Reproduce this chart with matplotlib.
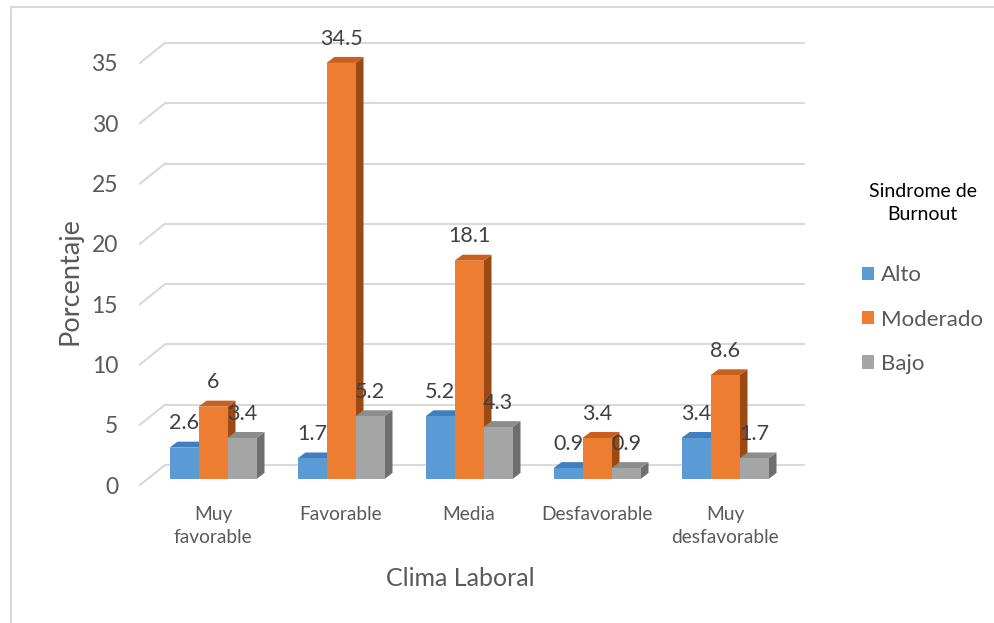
import matplotlib
matplotlib.use("Agg")
import matplotlib.pyplot as plt
from matplotlib.patches import Polygon, Patch
from matplotlib.lines import Line2D
import numpy as np

# ---------------- data ----------------
categories = ["Muy\nfavorable", "Favorable", "Media", "Desfavorable", "Muy\ndesfavorable"]
series_names = ["Alto", "Moderado", "Bajo"]
alto = [2.6, 1.7, 5.2, 0.9, 3.4]
moderado = [6, 34.5, 18.1, 3.4, 8.6]
bajo = [3.4, 5.2, 4.3, 0.9, 1.7]
y_ticks = [0, 5, 10, 15, 20, 25, 30, 35]
legend_title = "Sindrome de\nBurnout"
x_title = "Clima Laboral"
y_title = "Porcentaje"

# ---------------- style ----------------
FONT = ["Lato", "DejaVu Sans"]
plt.rcParams["font.family"] = FONT
front_cols = ["#5B9BD5", "#ED7D31", "#A5A5A5"]
top_cols = ["#3F7FC0", "#C9601D", "#8C8C8C"]
side_cols = ["#2F5F8F", "#9C4A14", "#6E6E6E"]
grid_col = "#D9D9D9"
txt_col = "#595959"
lbl_col = "#404040"

W, H = 994, 623
fig = plt.figure(figsize=(W / 100, H / 100), dpi=100)

# axes region in pixels
px_left, px_right, px_top, px_bot = 100, 830, 30, 500
ax = fig.add_axes([px_left / W, 1 - px_bot / H, (px_right - px_left) / W, (px_bot - px_top) / H])
PX_PER_X = 128.0
PX_PER_Y = 12.06
X0 = 213.0   # pixel of first group center
Y0 = 479.0   # pixel of bar base
ax.set_xlim((px_left - X0) / PX_PER_X, (px_right - X0) / PX_PER_X)
ax.set_ylim((Y0 - px_bot) / PX_PER_Y, (Y0 - px_top) / PX_PER_Y)
for s in ax.spines.values():
    s.set_visible(False)

# pseudo-3D geometry (data units)
bw = 29 / PX_PER_X          # bar width
ddx = 8 / PX_PER_X          # bar depth x
ddy = 6 / PX_PER_Y          # bar depth y
front_dy = -6 / PX_PER_Y    # front plane of value axis
back_dy = 14 / PX_PER_Y     # back wall
front_x = (140 - X0) / PX_PER_X
back_x = (165 - X0) / PX_PER_X
back_end = (805 - X0) / PX_PER_X

# gridlines on back wall + diagonal stubs
for v in y_ticks:
    ax.plot([back_x, back_end], [v + back_dy, v + back_dy], color=grid_col, lw=1.5, zorder=1,
            solid_capstyle="butt")
    ax.plot([front_x, back_x], [v + front_dy, v + back_dy], color=grid_col, lw=1.5, zorder=1)

# y tick labels (right edge at ~118 px)
ax.set_yticks([v + front_dy for v in y_ticks], labels=[str(v) for v in y_ticks])
ax.tick_params(axis="y", length=0, pad=(px_left - 118) * 0.72,
               labelsize=16.5, labelcolor=txt_col)

x = np.arange(len(categories))
ax.set_xticks(x, labels=categories)
ax.tick_params(axis="x", length=0, pad=4, labelsize=13.8, labelcolor=txt_col)
for t in ax.get_xticklabels():
    t.set_linespacing(1.45)

series = [alto, moderado, bajo]
offsets = [-bw, 0, bw]
handles = []
for si, (vals, off) in enumerate(zip(series, offsets)):
    xs = x + off
    bars = ax.bar(xs, vals, width=bw, color=front_cols[si], zorder=3 + si * 0.1, linewidth=0)
    handles.append(Patch(facecolor=front_cols[si], label=series_names[si]))
    for b, v in zip(bars, vals):
        xl = b.get_x()
        xr = xl + b.get_width()
        top = Polygon([(xl, v), (xr, v), (xr + ddx, v + ddy), (xl + ddx, v + ddy)],
                      closed=True, facecolor=top_cols[si], edgecolor="none", zorder=3 + si * 0.1)
        side = Polygon([(xr, 0), (xr + ddx, ddy), (xr + ddx, v + ddy), (xr, v)],
                       closed=True, facecolor=side_cols[si], edgecolor="none", zorder=3 + si * 0.1)
        ax.add_patch(side)
        ax.add_patch(top)
        b.set_zorder(3 + si * 0.1 + 0.01)
        ax.annotate(f"{v:g}", xy=(b.get_x() + b.get_width() / 2, v), xytext=(0, 17.5),
                    textcoords="offset points", ha="center", va="center",
                    fontsize=15.5, color=lbl_col, zorder=10)

# axis titles
fig.text(460 / W, 1 - 578 / H, x_title, ha="center", va="center", fontsize=18, color=txt_col)
fig.text(70 / W, 1 - 281 / H, y_title, ha="center", va="center", rotation=90, fontsize=19.5,
         color=txt_col)

# legend
leg = fig.legend(handles=handles, title=legend_title, loc="upper left",
                 bbox_to_anchor=(851 / W, 1 - 172 / H), frameon=False, fontsize=16,
                 title_fontsize=14, handlelength=0.55, handleheight=0.55, handletextpad=0.3,
                 labelspacing=1.1, borderpad=0, alignment="center")
for t in leg.get_texts():
    t.set_color(txt_col)
leg.get_title().set_color("#000000")
leg.get_title().set_linespacing(1.45)
leg.get_title().set_multialignment("center")
leg._legend_box.sep = 30

# chart border (left and top)
fig.add_artist(Line2D([11 / W, 11 / W], [0, 1 - 7 / H], transform=fig.transFigure,
                      color=grid_col, lw=1.5))
fig.add_artist(Line2D([11 / W, 1], [1 - 7 / H, 1 - 7 / H], transform=fig.transFigure,
                      color=grid_col, lw=1.5))

fig.savefig("out.png", dpi=100)
